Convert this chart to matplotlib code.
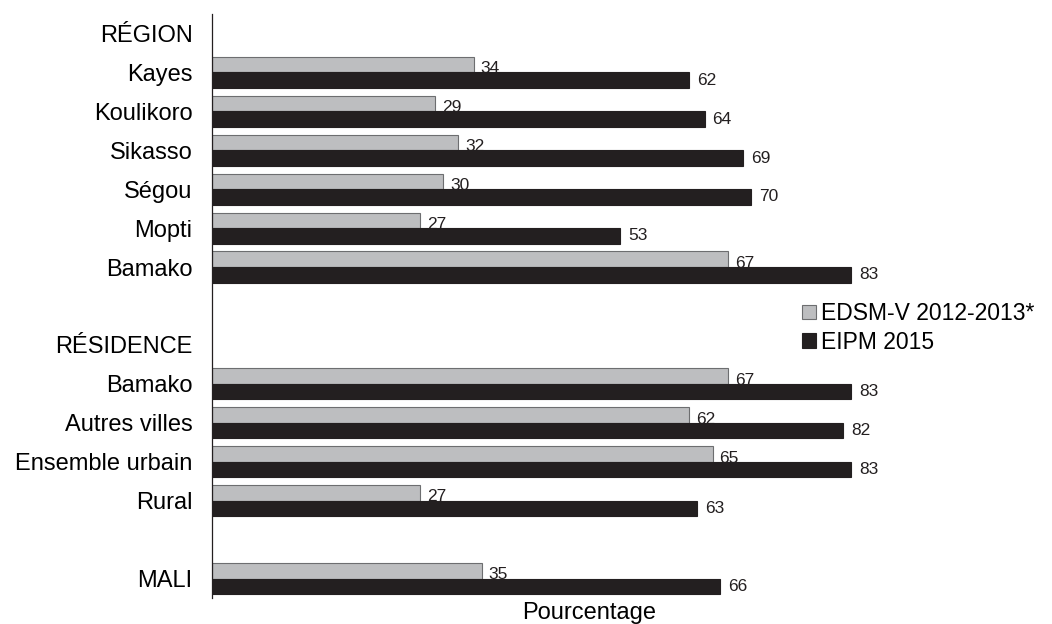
import matplotlib
matplotlib.use("Agg")
import matplotlib.pyplot as plt
import numpy as np

plt.rcParams['font.family'] = ['Liberation Sans', 'DejaVu Sans']

row_labels = ["RÉGION", "Kayes", "Koulikoro", "Sikasso", "Ségou", "Mopti", "Bamako", "",
              "RÉSIDENCE", "Bamako", "Autres villes", "Ensemble urbain", "Rural", "", "MALI"]
edsm = [None, 34, 29, 32, 30, 27, 67, None, None, 67, 62, 65, 27, None, 35]
eipm = [None, 62, 64, 69, 70, 53, 83, None, None, 83, 82, 83, 63, None, 66]
series_names = ["EDSM-V 2012-2013*", "EIPM 2015"]

gray = "#bdbec0"
dark = "#231f20"

fig = plt.figure(figsize=(10.52, 6.24), dpi=100)
ax = fig.add_axes([212/1052, 1-598/624, 770/1052, (598-14)/624])

pos = np.arange(len(row_labels))
h = 0.4
for i, (g, b) in enumerate(zip(edsm, eipm)):
    if g is not None:
        ax.barh(i - h/2, g, height=h, color=gray, edgecolor="#6d6e70", linewidth=0.8,
                label=series_names[0] if i == 1 else None)
        ax.text(g + 0.9, i + 0.02, str(g), va="baseline", ha="left", fontsize=12.5, color="#231f20")
    if b is not None:
        ax.barh(i + h/2, b, height=h, color=dark, edgecolor=dark, linewidth=0.8,
                label=series_names[1] if i == 1 else None)
        ax.text(b + 1.0, i + h/2, str(b), va="center", ha="left", fontsize=12.5, color="#231f20")

ax.set_xlim(0, 100)
ax.set_ylim(len(row_labels) - 0.5, -0.5)
ax.set_yticks(pos)
ax.set_yticklabels(row_labels, fontsize=17)
ax.tick_params(axis="y", length=0, pad=14)
ax.set_xticks([])
for s in ["top", "right", "bottom"]:
    ax.spines[s].set_visible(False)
ax.spines["left"].set_linewidth(0.9)
ax.spines["left"].set_color("#231f20")
fig.text(589/1052, 1-613/624, "Pourcentage", fontsize=17, ha="center", va="center")

handles, labels = ax.get_legend_handles_labels()
fig.legend(handles, labels, loc="upper left", bbox_to_anchor=(802/1052, 1-302/624),
           frameon=False, fontsize=16.5, handlelength=0.6, handleheight=0.6,
           handletextpad=0.25, labelspacing=0.25, borderaxespad=0, borderpad=0)

fig.savefig("out.png", dpi=100)
